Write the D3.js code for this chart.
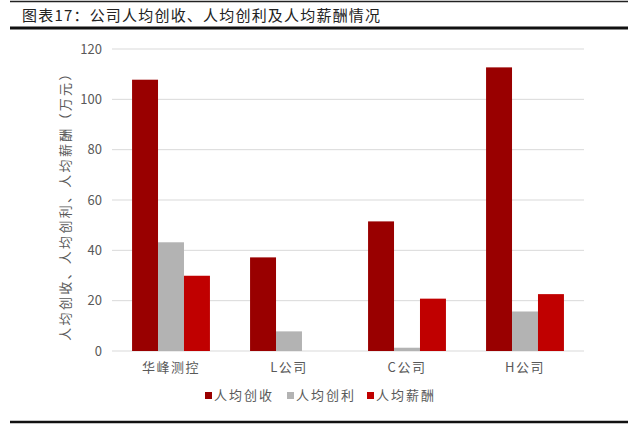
<!DOCTYPE html>
<html>
<head>
<meta charset="utf-8">
<script src="https://cdn.jsdelivr.net/npm/d3@7"></script>
<style>
  body { margin: 0; background: #fff; }
  text { font-family: "Noto Sans CJK SC", "Noto Sans", sans-serif; }
</style>
</head>
<body>
<script>
const companies = ["华峰测控", "L公司", "C公司", "H公司"];
const seriesNames = ["人均创收", "人均创利", "人均薪酬"];
const revenue = [107.8, 37.2, 51.5, 112.7];
const profit = [43.2, 7.8, 1.3, 15.7];
const salary = [29.9, null, 20.8, 22.6];
const yTicks = [0, 20, 40, 60, 80, 100, 120];
const colors = ["#990000", "#b3b3b3", "#c00000"];

const width = 640;
const height = 427;
const margin = { top: 49, right: 56, bottom: 76, left: 112 };

const svg = d3
  .select("body")
  .append("svg")
  .attr("width", width)
  .attr("height", height);

// title block with rules
svg.append("line")
  .attr("x1", 10).attr("x2", 628).attr("y1", 1.5).attr("y2", 1.5)
  .attr("stroke", "#222").attr("stroke-width", 1.5);
svg.append("text")
  .attr("x", 22).attr("y", 21)
  .attr("font-size", 15)
  .attr("letter-spacing", 1.2)
  .attr("fill", "#222")
  .text("图表17：公司人均创收、人均创利及人均薪酬情况");
svg.append("line")
  .attr("x1", 10).attr("x2", 628).attr("y1", 28).attr("y2", 28)
  .attr("stroke", "#111").attr("stroke-width", 3);
svg.append("line")
  .attr("x1", 10).attr("x2", 628).attr("y1", 422).attr("y2", 422)
  .attr("stroke", "#111").attr("stroke-width", 2.5);

const x = d3
  .scaleBand()
  .domain(companies)
  .range([margin.left, width - margin.right])
  .paddingInner(0.34)
  .paddingOuter(0.17);

const xs = d3
  .scaleBand()
  .domain(seriesNames)
  .range([0, x.bandwidth()]);

const y = d3
  .scaleLinear()
  .domain([0, 120])
  .range([height - margin.bottom, margin.top]);

// grid
svg.append("g")
  .selectAll("line")
  .data(yTicks)
  .join("line")
  .attr("x1", margin.left)
  .attr("x2", width - margin.right)
  .attr("y1", (d) => y(d))
  .attr("y2", (d) => y(d))
  .attr("stroke", "#d9d9d9")
  .attr("stroke-width", 1);

// y axis labels
const yAxis = svg.append("g")
  .attr("transform", `translate(${margin.left - 10},0)`)
  .call(d3.axisLeft(y).tickValues(yTicks).tickSize(0).tickPadding(0));
yAxis.select(".domain").remove();
yAxis.selectAll("text")
  .attr("font-size", 13)
  .attr("fill", "#595959")
  .attr("font-family", "Liberation Sans, Arial, sans-serif");

svg.append("text")
  .attr("transform", `translate(70,${(margin.top + height - margin.bottom) / 2 + 3}) rotate(-90)`)
  .attr("text-anchor", "middle")
  .attr("font-size", 13)
  .attr("letter-spacing", 2.3)
  .attr("fill", "#595959")
  .text("人均创收、人均创利、人均薪酬（万元）");

// bars
const series = [revenue, profit, salary];
const groups = svg.append("g")
  .selectAll("g")
  .data(companies)
  .join("g")
  .attr("transform", (d) => `translate(${x(d)},0)`);

groups
  .selectAll("rect")
  .data((d, i) => seriesNames.map((s, j) => ({ s, v: series[j][i], j })))
  .join("rect")
  .filter((d) => d.v != null)
  .attr("x", (d) => xs(d.s))
  .attr("width", xs.bandwidth())
  .attr("y", (d) => y(d.v))
  .attr("height", (d) => y(0) - y(d.v))
  .attr("fill", (d) => colors[d.j]);

// x axis labels
const xAxis = svg.append("g")
  .attr("transform", `translate(0,${y(0)})`)
  .call(d3.axisBottom(x).tickSize(0).tickPadding(12));
xAxis.select(".domain").remove();
xAxis.selectAll("text")
  .attr("font-size", 13)
  .attr("letter-spacing", 1.5)
  .attr("fill", "#595959");

// legend
const legendX = [205, 287, 367];
const legend = svg.append("g")
  .selectAll("g")
  .data(seriesNames)
  .join("g")
  .attr("transform", (d, i) => `translate(${legendX[i]},400)`);
legend.append("rect")
  .attr("x", 0).attr("y", -8)
  .attr("width", 7).attr("height", 7)
  .attr("fill", (d, i) => colors[i]);
legend.append("text")
  .attr("x", 9).attr("y", 0)
  .attr("font-size", 13)
  .attr("letter-spacing", 2)
  .attr("fill", "#595959")
  .text((d) => d);
</script>
</body>
</html>
